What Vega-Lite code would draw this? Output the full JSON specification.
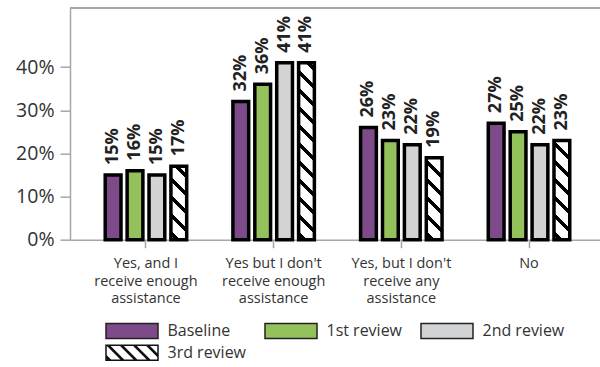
{
  "$schema": "https://vega.github.io/schema/vega-lite/v6.json",
  "width": 530,
  "height": 232,
  "padding": {"left": 5, "top": 6.7, "right": 0, "bottom": 0},
  "background": "white",
  "config": {"view": {"stroke": null}, "font": "Open Sans"},
  "data": {
    "values": [
      {"q": "Yes, and I receive enough assistance", "review": "Baseline", "v": 0.15},
      {"q": "Yes, and I receive enough assistance", "review": "1st review", "v": 0.16},
      {"q": "Yes, and I receive enough assistance", "review": "2nd review", "v": 0.15},
      {"q": "Yes, and I receive enough assistance", "review": "3rd review", "v": 0.17},
      {"q": "Yes but I don't receive enough assistance", "review": "Baseline", "v": 0.32},
      {"q": "Yes but I don't receive enough assistance", "review": "1st review", "v": 0.36},
      {"q": "Yes but I don't receive enough assistance", "review": "2nd review", "v": 0.41},
      {"q": "Yes but I don't receive enough assistance", "review": "3rd review", "v": 0.41},
      {"q": "Yes, but I don't receive any assistance", "review": "Baseline", "v": 0.26},
      {"q": "Yes, but I don't receive any assistance", "review": "1st review", "v": 0.23},
      {"q": "Yes, but I don't receive any assistance", "review": "2nd review", "v": 0.22},
      {"q": "Yes, but I don't receive any assistance", "review": "3rd review", "v": 0.19},
      {"q": "No", "review": "Baseline", "v": 0.27},
      {"q": "No", "review": "1st review", "v": 0.25},
      {"q": "No", "review": "2nd review", "v": 0.22},
      {"q": "No", "review": "3rd review", "v": 0.23}
    ]
  },
  "layer": [
    {
      "mark": {"type": "rule", "color": "#a6a6a6", "strokeWidth": 1.5},
      "encoding": {"y": {"datum": 0.5375, "type": "quantitative"}}
    },
    {
      "mark": {"type": "bar", "stroke": "black", "strokeWidth": 3.5},
      "encoding": {
        "x": {
          "field": "q", "type": "nominal", "sort": null, "title": null,
          "scale": {"paddingInner": 0.362, "paddingOuter": 0.2563, "align": 0.538},
          "axis": {
            "labelAngle": 0, "domainColor": "#a6a6a6", "domainWidth": 1.5,
            "tickColor": "#a6a6a6", "tickWidth": 1.5, "tickSize": 8, "labelPadding": 9,
            "labelFont": "Open Sans", "labelFontSize": 14.5, "labelColor": "#333333",
            "labelLineHeight": 17.5, "labelLimit": 200,
            "labelExpr": "datum.value === 'No' ? 'No' : indexof(datum.value, 'and I') >= 0 ? ['Yes, and I', 'receive enough', 'assistance'] : indexof(datum.value, 'enough') >= 0 ? [\"Yes but I don't\", 'receive enough', 'assistance'] : [\"Yes, but I don't\", 'receive any', 'assistance']"
          }
        },
        "xOffset": {"field": "review", "type": "nominal", "sort": null, "scale": {"paddingInner": 0.28, "paddingOuter": 0}},
        "y": {
          "field": "v", "type": "quantitative", "title": null,
          "scale": {"domain": [0, 0.5375], "nice": false},
          "axis": {
            "values": [0, 0.1, 0.2, 0.3, 0.4], "format": ".0%", "grid": false,
            "domainColor": "#a6a6a6", "domainWidth": 1.5, "tickColor": "#a6a6a6", "tickWidth": 1.5,
            "tickSize": 10, "labelPadding": 6, "labelFont": "Open Sans", "labelFontSize": 19.5,
            "labelColor": "#333333", "minExtent": 65, "maxExtent": 65
          }
        },
        "fill": {
          "field": "review", "type": "nominal", "sort": null,
          "scale": {"domain": ["Baseline", "1st review", "2nd review", "3rd review"], "range": ["#7d4b89", "#93c25c", "#d2d3d5", "#111111"]},
          "condition": [
            {"test": "datum.review === '3rd review' && datum.v === 0.17", "value": {"gradient": "linear", "x1": 0, "y1": 1, "x2": 0.2495, "y2": -0.1612, "stops": [
              {"offset": 0, "color": "#fff"},
              {"offset": 0.0448, "color": "#fff"}, {"offset": 0.0448, "color": "#000"}, {"offset": 0.1009, "color": "#000"}, {"offset": 0.1009, "color": "#fff"},
              {"offset": 0.2466, "color": "#fff"}, {"offset": 0.2466, "color": "#000"}, {"offset": 0.3026, "color": "#000"}, {"offset": 0.3026, "color": "#fff"},
              {"offset": 0.4483, "color": "#fff"}, {"offset": 0.4483, "color": "#000"}, {"offset": 0.5043, "color": "#000"}, {"offset": 0.5043, "color": "#fff"},
              {"offset": 0.65, "color": "#fff"}, {"offset": 0.65, "color": "#000"}, {"offset": 0.706, "color": "#000"}, {"offset": 0.706, "color": "#fff"},
              {"offset": 0.8517, "color": "#fff"}, {"offset": 0.8517, "color": "#000"}, {"offset": 0.9078, "color": "#000"}, {"offset": 0.9078, "color": "#fff"},
              {"offset": 1, "color": "#fff"}
            ]}},
            {"test": "datum.review === '3rd review' && datum.v === 0.41", "value": {"gradient": "linear", "x1": 0, "y1": 1, "x2": 0.09626, "y2": -0.08049, "stops": [
              {"offset": 0, "color": "#fff"},
              {"offset": 0.0207, "color": "#fff"}, {"offset": 0.0207, "color": "#000"}, {"offset": 0.0467, "color": "#000"}, {"offset": 0.0467, "color": "#fff"},
              {"offset": 0.114, "color": "#fff"}, {"offset": 0.114, "color": "#000"}, {"offset": 0.14, "color": "#000"}, {"offset": 0.14, "color": "#fff"},
              {"offset": 0.2074, "color": "#fff"}, {"offset": 0.2074, "color": "#000"}, {"offset": 0.2333, "color": "#000"}, {"offset": 0.2333, "color": "#fff"},
              {"offset": 0.3007, "color": "#fff"}, {"offset": 0.3007, "color": "#000"}, {"offset": 0.3266, "color": "#000"}, {"offset": 0.3266, "color": "#fff"},
              {"offset": 0.394, "color": "#fff"}, {"offset": 0.394, "color": "#000"}, {"offset": 0.4199, "color": "#000"}, {"offset": 0.4199, "color": "#fff"},
              {"offset": 0.4873, "color": "#fff"}, {"offset": 0.4873, "color": "#000"}, {"offset": 0.5132, "color": "#000"}, {"offset": 0.5132, "color": "#fff"},
              {"offset": 0.5806, "color": "#fff"}, {"offset": 0.5806, "color": "#000"}, {"offset": 0.6065, "color": "#000"}, {"offset": 0.6065, "color": "#fff"},
              {"offset": 0.6739, "color": "#fff"}, {"offset": 0.6739, "color": "#000"}, {"offset": 0.6998, "color": "#000"}, {"offset": 0.6998, "color": "#fff"},
              {"offset": 0.7672, "color": "#fff"}, {"offset": 0.7672, "color": "#000"}, {"offset": 0.7931, "color": "#000"}, {"offset": 0.7931, "color": "#fff"},
              {"offset": 0.8605, "color": "#fff"}, {"offset": 0.8605, "color": "#000"}, {"offset": 0.8864, "color": "#000"}, {"offset": 0.8864, "color": "#fff"},
              {"offset": 0.9538, "color": "#fff"}, {"offset": 0.9538, "color": "#000"}, {"offset": 0.9797, "color": "#000"}, {"offset": 0.9797, "color": "#fff"},
              {"offset": 1, "color": "#fff"}
            ]}},
            {"test": "datum.review === '3rd review' && datum.v === 0.19", "value": {"gradient": "linear", "x1": 0, "y1": 1, "x2": 0.221, "y2": -0.14975, "stops": [
              {"offset": 0, "color": "#fff"},
              {"offset": 0.0409, "color": "#fff"}, {"offset": 0.0409, "color": "#000"}, {"offset": 0.092, "color": "#000"}, {"offset": 0.092, "color": "#fff"},
              {"offset": 0.2248, "color": "#fff"}, {"offset": 0.2248, "color": "#000"}, {"offset": 0.2759, "color": "#000"}, {"offset": 0.2759, "color": "#fff"},
              {"offset": 0.4087, "color": "#fff"}, {"offset": 0.4087, "color": "#000"}, {"offset": 0.4598, "color": "#000"}, {"offset": 0.4598, "color": "#fff"},
              {"offset": 0.5926, "color": "#fff"}, {"offset": 0.5926, "color": "#000"}, {"offset": 0.6437, "color": "#000"}, {"offset": 0.6437, "color": "#fff"},
              {"offset": 0.7765, "color": "#fff"}, {"offset": 0.7765, "color": "#000"}, {"offset": 0.8276, "color": "#000"}, {"offset": 0.8276, "color": "#fff"},
              {"offset": 0.9605, "color": "#fff"}, {"offset": 0.9605, "color": "#000"}, {"offset": 1, "color": "#000"}
            ]}},
            {"test": "datum.review === '3rd review' && datum.v === 0.23", "value": {"gradient": "linear", "x1": 0, "y1": 1, "x2": 0.1795, "y2": -0.13033, "stops": [
              {"offset": 0, "color": "#fff"},
              {"offset": 0.0347, "color": "#fff"}, {"offset": 0.0347, "color": "#000"}, {"offset": 0.0782, "color": "#000"}, {"offset": 0.0782, "color": "#fff"},
              {"offset": 0.1911, "color": "#fff"}, {"offset": 0.1911, "color": "#000"}, {"offset": 0.2345, "color": "#000"}, {"offset": 0.2345, "color": "#fff"},
              {"offset": 0.3474, "color": "#fff"}, {"offset": 0.3474, "color": "#000"}, {"offset": 0.3908, "color": "#000"}, {"offset": 0.3908, "color": "#fff"},
              {"offset": 0.5037, "color": "#fff"}, {"offset": 0.5037, "color": "#000"}, {"offset": 0.5471, "color": "#000"}, {"offset": 0.5471, "color": "#fff"},
              {"offset": 0.66, "color": "#fff"}, {"offset": 0.66, "color": "#000"}, {"offset": 0.7034, "color": "#000"}, {"offset": 0.7034, "color": "#fff"},
              {"offset": 0.8163, "color": "#fff"}, {"offset": 0.8163, "color": "#000"}, {"offset": 0.8598, "color": "#000"}, {"offset": 0.8598, "color": "#fff"},
              {"offset": 0.9726, "color": "#fff"}, {"offset": 0.9726, "color": "#000"}, {"offset": 1, "color": "#000"}
            ]}}
          ],
          "legend": {
            "orient": "none", "legendX": 54, "legendY": 315, "direction": "horizontal", "columns": 3,
            "title": null, "symbolType": "M-3.467,-1H3.467V1H-3.467Z", "symbolSize": 225,
            "symbolStrokeColor": "#222222", "symbolStrokeWidth": 1.5, "symbolOpacity": 1,
            "labelFont": "Open Sans", "labelFontSize": 16, "labelColor": "#333333",
            "labelOffset": 27.5, "columnPadding": 14, "rowPadding": 2, "labelLimit": 200,
            "encode": {
              "symbols": {
                "update": {
                  "stroke": {"value": "#222222"},
                  "strokeWidth": {"signal": "datum.value === '3rd review' ? 0 : 1.5"},
                  "opacity": {"value": 1},
                  "shape": {"signal": "datum.value === '3rd review' ? 'M-3.567,-1.1H3.567V-0.9H-3.567ZM-3.567,0.9H3.567V1.1H-3.567ZM-3.567,-0.9H-3.367V0.9H-3.567ZM3.367,-0.9H3.567V0.9H3.367ZM-3.367,0.333L-2.8,0.9L-3.3,0.9L-3.367,0.833ZM-3.35,-0.9L-2.85,-0.9L-1.05,0.9L-1.55,0.9ZM-1.6,-0.9L-1.1,-0.9L0.7,0.9L0.2,0.9ZM0.15,-0.9L0.65,-0.9L2.45,0.9L1.95,0.9ZM1.9,-0.9L2.4,-0.9L3.367,0.067L3.367,0.567Z' : 'M-3.467,-1H3.467V1H-3.467Z'"}
                }
              }
            }
          }
        }
      }
    },
    {
      "mark": {"type": "text", "angle": 270, "align": "left", "baseline": "middle", "dx": 10, "font": "Open Sans", "fontWeight": "bold", "fontSize": 18, "color": "#222222"},
      "encoding": {
        "x": {"field": "q", "type": "nominal", "sort": null},
        "xOffset": {"field": "review", "type": "nominal", "sort": null},
        "y": {"field": "v", "type": "quantitative"},
        "text": {"field": "v", "type": "quantitative", "format": ".0%"}
      }
    }
  ]
}
